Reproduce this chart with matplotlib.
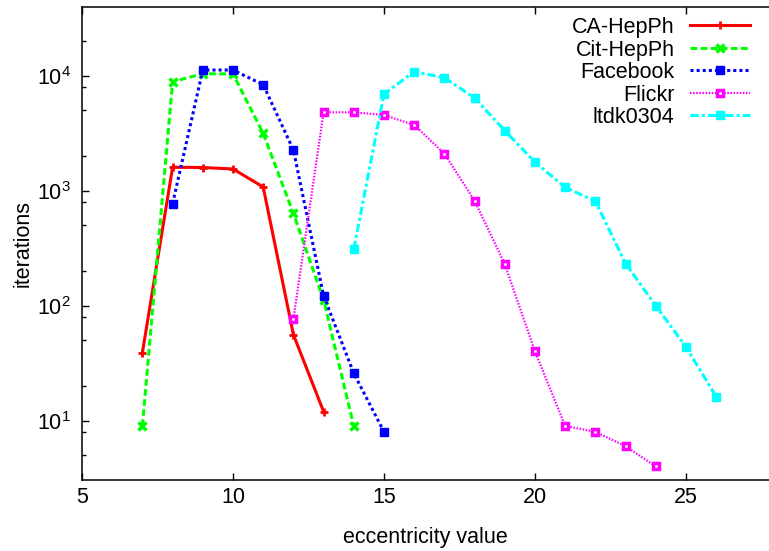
import matplotlib
matplotlib.use("Agg")
import matplotlib.pyplot as plt
from matplotlib.ticker import LogLocator, NullFormatter

plt.rcParams['font.family'] = ['Liberation Sans', 'DejaVu Sans']
plt.rcParams['mathtext.fontset'] = 'custom'
plt.rcParams['mathtext.rm'] = 'Liberation Sans'
plt.rcParams['font.size'] = 15.5

# eccentricity value -> iterations
ca_x = [7, 8, 9, 10, 11, 12, 13]
ca_y = [39, 1600, 1590, 1545, 1077, 56, 12]

cit_x = [7, 8, 9, 10, 11, 12, 13, 14]
cit_y = [9, 8870, 10400, 10350, 3155, 636, 112, 9]

fb_x = [8, 9, 10, 11, 12, 13, 14, 15]
fb_y = [771, 11200, 11200, 8350, 2260, 122, 25.8, 8]

fl_x = [12, 13, 14, 15, 16, 17, 18, 19, 20, 21, 22, 23, 24]
fl_y = [76.6, 4805, 4800, 4550, 3727, 2098, 818, 229, 40, 9, 8, 6, 4]

it_x = [14, 15, 16, 17, 18, 19, 20, 21, 22, 23, 24, 25, 26]
it_y = [311, 6935, 10830, 9610, 6397, 3325, 1770, 1070, 810, 232, 100, 43.7, 16.2]

fig = plt.figure(figsize=(7.69, 5.51), dpi=100)
ax = fig.add_axes([82/769, 1 - 480/551, 1 - 82/769, (480 - 6.7)/551])

ax.plot(ca_x, ca_y, color='#ff0000', lw=2.2, ls='-', marker='+', ms=6, mew=2,
        label='CA-HepPh')
ax.plot(cit_x, cit_y, color='#00ff00', lw=2.2, ls=(0, (2.2, 1.1)), marker='x', ms=6, mew=2.5,
        label='Cit-HepPh')
ax.plot(fb_x, fb_y, color='#0000ff', lw=2.2, ls=(0, (1, 1)), marker='s', ms=6, mew=1,
        label='Facebook')
ax.plot(fl_x, fl_y, color='#ff00ff', lw=1.6, ls=(0, (0.7, 0.7)), marker='s', ms=4.5, mew=2.5,
        mfc='white', mec='#ff00ff', label='Flickr')
ax.plot(it_x, it_y, color='#00ffff', lw=2.2, ls=(0, (2.7, 1, 1, 1)), marker='s', ms=6, mew=1,
        label='ltdk0304')

ax.set_yscale('log')
ax.set_xlim(5, 5 + (769 - 82)/30.2)
ax.set_ylim(3.05, 39800)
ax.set_xticks([5, 10, 15, 20, 25])
ax.yaxis.set_major_locator(LogLocator(base=10, subs=[1.0]))
ax.yaxis.set_minor_locator(LogLocator(base=10, subs=[2.0, 5.0, 8.0]))
ax.yaxis.set_minor_formatter(NullFormatter())
ax.set_yticks([10, 100, 1000, 10000])

ax.spines['right'].set_visible(False)
for s in ['left', 'bottom', 'top']:
    ax.spines[s].set_linewidth(1.1)
ax.tick_params(which='major', direction='in', length=5, width=1, top=True, right=False)
ax.tick_params(axis='x', which='major', pad=5)
ax.tick_params(axis='y', which='major', pad=8)
ax.tick_params(which='minor', direction='in', length=3, width=1, top=False, right=False)
ax.tick_params(axis='x', which='minor', bottom=False, top=False)

ax.set_xlabel('eccentricity value', labelpad=14)
ax.set_ylabel('iterations', labelpad=2)

leg = ax.legend(loc='upper right', bbox_to_anchor=(750/769, 1 - 17/551),
                bbox_transform=fig.transFigure, frameon=False, markerfirst=False,
                handlelength=2.8, handletextpad=0.7, labelspacing=0.07,
                borderpad=0, borderaxespad=0)

fig.savefig('out.png', dpi=100)
